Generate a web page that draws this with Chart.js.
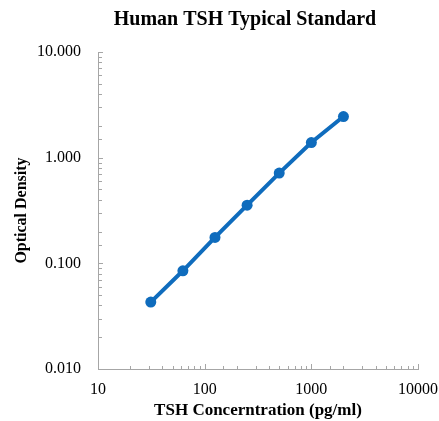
<!DOCTYPE html>
<html>
<head>
<meta charset="utf-8">
<script src="https://cdn.jsdelivr.net/npm/chart.js@4.4.1/dist/chart.umd.min.js"></script>
<style>
  html, body { margin: 0; padding: 0; background: #fff; }
  #wrap { width: 439px; height: 421px; }
</style>
</head>
<body>
<div id="wrap"><canvas id="tshChart" width="439" height="421"></canvas></div>
<script>
// Standard curve data
const concentrations = [31.25, 62.5, 125, 250, 500, 1000, 2000];
const opticalDensity = [0.043, 0.085, 0.176, 0.355, 0.715, 1.39, 2.45];

const xRange = [10, 10000];
const yRange = [0.01, 10];

const chartTitle = 'Human TSH Typical Standard';
const xTitle = 'TSH Concerntration (pg/ml)';
const yTitle = 'Optical Density';

const SERIF = '"Liberation Serif", "Times New Roman", serif';
const AXIS_GREY = '#a6a6a6';
const LINE_BLUE = '#0f6cbd';

function isDecade(v) {
  const l = Math.log10(v);
  return Math.abs(l - Math.round(l)) < 1e-9;
}

// draws the small inward tick marks and the title
const innerTicks = {
  id: 'innerTicks',
  afterDraw(chart) {
    const ctx = chart.ctx;
    const xs = chart.scales.x, ys = chart.scales.y;
    const area = chart.chartArea;
    ctx.save();
    ctx.strokeStyle = AXIS_GREY;
    ctx.lineWidth = 1;
    ys.ticks.forEach(t => {
      const py = Math.round(ys.getPixelForValue(t.value)) + 0.5;
      const len = isDecade(t.value) ? 5 : 4;
      ctx.beginPath();
      ctx.moveTo(area.left, py);
      ctx.lineTo(area.left + len, py);
      ctx.stroke();
    });
    xs.ticks.forEach(t => {
      const px = Math.round(xs.getPixelForValue(t.value)) + 0.5;
      const len = isDecade(t.value) ? 5 : 3;
      ctx.beginPath();
      ctx.moveTo(px, area.bottom);
      ctx.lineTo(px, area.bottom - len);
      ctx.stroke();
    });
    ctx.fillStyle = '#000';
    ctx.font = 'bold 20px ' + SERIF;
    ctx.textAlign = 'center';
    ctx.textBaseline = 'middle';
    ctx.fillText(chartTitle, 245, 20);
    ctx.restore();
  }
};

new Chart(document.getElementById('tshChart').getContext('2d'), {
  type: 'line',
  data: {
    datasets: [{
      label: 'Standard',
      data: concentrations.map((c, i) => ({ x: c, y: opticalDensity[i] })),
      borderColor: LINE_BLUE,
      backgroundColor: LINE_BLUE,
      borderWidth: 4,
      pointRadius: 5.5,
      pointBackgroundColor: LINE_BLUE,
      pointBorderWidth: 0,
      tension: 0,
      fill: false
    }]
  },
  options: {
    responsive: false,
    animation: false,
    layout: { padding: { top: 52, left: 12, right: 0, bottom: 0 } },
    plugins: {
      legend: { display: false },
      tooltip: { enabled: false },
      title: { display: false }
    },
    scales: {
      x: {
        type: 'logarithmic',
        min: xRange[0], max: xRange[1],
        afterFit(scale) {
          scale.height = 52;
          scale.paddingLeft = 0;
          scale.paddingRight = 21;
        },
        border: { color: AXIS_GREY, width: 1 },
        grid: { drawOnChartArea: false, drawTicks: false },
        ticks: {
          autoSkip: false, maxRotation: 0, padding: 11,
          color: '#000',
          font: { family: SERIF, size: 16 },
          callback: v => isDecade(v) ? String(Math.round(v)) : ''
        },
        title: {
          display: true, text: xTitle, color: '#000',
          font: { family: SERIF, size: 17, weight: 'bold' },
          padding: { top: 3, bottom: 0 }
        }
      },
      y: {
        type: 'logarithmic',
        min: yRange[0], max: yRange[1],
        afterFit(scale) { scale.width = 86; },
        border: { color: AXIS_GREY, width: 1 },
        grid: { drawOnChartArea: false, drawTicks: false },
        ticks: {
          autoSkip: false, padding: 17,
          color: '#000',
          font: { family: SERIF, size: 16 },
          callback: v => isDecade(v) ? v.toFixed(3) : ''
        },
        title: {
          display: true, text: yTitle, color: '#000',
          font: { family: SERIF, size: 16, weight: 'bold' },
          padding: { top: 0, bottom: 0 }
        }
      }
    }
  },
  plugins: [innerTicks]
});
</script>
</body>
</html>
